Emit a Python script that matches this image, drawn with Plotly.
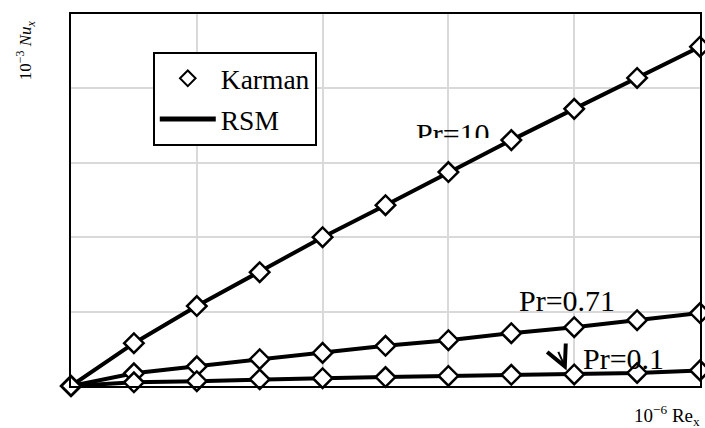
import plotly.graph_objects as go

# Data
re_x = [0, 1, 2, 3, 4, 5, 6, 7, 8, 9, 10]                     # 10^-6 Re_x
nu_pr10 = [0, 1.15, 2.15, 3.06, 4.00, 4.86, 5.75, 6.61, 7.45, 8.28, 9.12]
nu_pr071 = [0, 0.34, 0.53, 0.72, 0.89, 1.08, 1.23, 1.42, 1.58, 1.77, 1.96]
nu_pr01 = [0, 0.10, 0.13, 0.18, 0.21, 0.24, 0.27, 0.30, 0.31, 0.35, 0.42]
series = [("Pr=10", nu_pr10), ("Pr=0.71", nu_pr071), ("Pr=0.1", nu_pr01)]

SERIF = "Liberation Serif, Times New Roman, serif"

fig = go.Figure()

# RSM lines
for i, (name, ys) in enumerate(series):
    fig.add_trace(go.Scatter(
        x=re_x, y=ys, mode="lines", name="RSM",
        line=dict(color="black", width=4),
        showlegend=(i == 0), legendgroup="rsm", legendrank=2,
        cliponaxis=False,
    ))

# Karman markers
for i, (name, ys) in enumerate(series):
    fig.add_trace(go.Scatter(
        x=re_x, y=ys, mode="markers", name="Karman",
        marker=dict(symbol="diamond", size=15, color="white",
                    line=dict(color="black", width=2.5)),
        showlegend=(i == 0), legendgroup="karman", legendrank=1,
        cliponaxis=False,
    ))

# Partially hidden "Pr=10" label, clipped by an overlay subplot
fig.add_trace(go.Scatter(
    x=[6.07], y=[6.72], mode="text", text=["Pr=10"],
    textfont=dict(family=SERIF, size=30, color="black"),
    xaxis="x2", yaxis="y2", showlegend=False, cliponaxis=True,
    hoverinfo="skip",
))

fig.update_layout(
    width=705, height=428,
    margin=dict(l=71, r=3, t=14, b=42),
    paper_bgcolor="white", plot_bgcolor="rgba(0,0,0,0)",
    font=dict(family=SERIF, color="black"),
    xaxis=dict(range=[0, 10], dtick=2, showticklabels=False, ticks="",
               showgrid=True, gridcolor="#d9d9d9", gridwidth=2,
               showline=True, linecolor="black", linewidth=2, mirror=True,
               zeroline=False),
    yaxis=dict(range=[0, 10], dtick=2, showticklabels=False, ticks="",
               showgrid=True, gridcolor="#d9d9d9", gridwidth=2,
               showline=True, linecolor="black", linewidth=2, mirror=True,
               zeroline=False),
    xaxis2=dict(range=[0, 10], domain=[0, 1], anchor="y2", visible=False),
    yaxis2=dict(range=[6.67, 10], domain=[0.667, 1], anchor="x2", visible=False),
    legend=dict(x=0.13, y=0.898, xanchor="left", yanchor="top",
                font=dict(family=SERIF, size=27.5, color="black"),
                bgcolor="white", bordercolor="black", borderwidth=2,
                itemwidth=56, itemsizing="constant",
                traceorder="grouped", tracegroupgap=2),
    showlegend=True,
)

# Pr labels
fig.add_annotation(x=7.88, y=2.3, xref="x", yref="y", text="Pr=0.71",
                   showarrow=False,
                   font=dict(family=SERIF, size=30, color="black"))
fig.add_annotation(x=8.78, y=0.75, xref="x", yref="y", text="Pr=0.1",
                   showarrow=False,
                   font=dict(family=SERIF, size=30, color="black"))
# arrow pointing to the Pr=0.1 curve
fig.add_annotation(x=7.88, y=0.42, xref="x", yref="y", text="",
                   showarrow=True, arrowhead=5, arrowwidth=2, arrowsize=2,
                   arrowcolor="black", ax=-9, ay=-20)

# Axis titles
fig.add_annotation(x=(25 - 71) / 631, y=(386 - 50) / 372, xref="paper", yref="paper",
                   xanchor="center", yanchor="middle",
                   text="10<sup>−3</sup> <i>Nu<sub>x</sub></i>", textangle=-90,
                   showarrow=False, font=dict(family=SERIF, size=17, color="black"))
fig.add_annotation(x=(704 - 71) / 631, y=(386 - 415) / 372, xref="paper", yref="paper",
                   xanchor="right", yanchor="middle",
                   text="10<sup>−6</sup> Re<sub>x</sub>",
                   showarrow=False, font=dict(family=SERIF, size=19, color="black"))

fig.write_html("out.html")
